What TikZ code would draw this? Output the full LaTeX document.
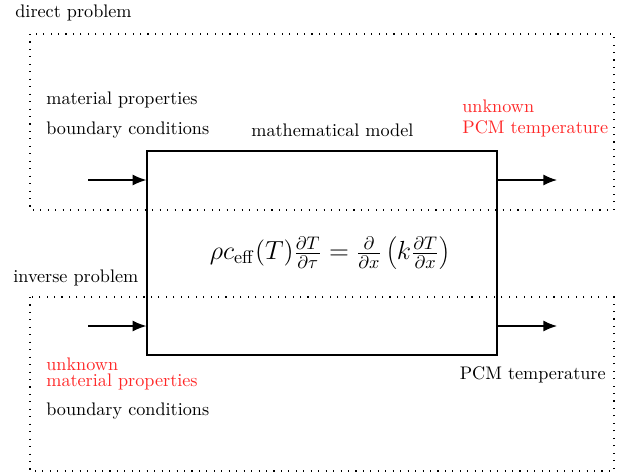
\documentclass[tikz,border=0pt]{standalone}
\usetikzlibrary{arrows.meta}
\begin{document}
\begin{tikzpicture}[x=0.55pt,y=-0.55pt,
  frame/.style={line width=0.6pt,dash pattern=on 0.6pt off 3.5pt},
  modelbox/.style={draw,line width=0.7pt},
  flow/.style={line width=0.7pt,-{Latex[length=7.5pt,width=6pt]}},
  lbl/.style={inner sep=0pt,font=\normalsize},
  unk/.style={lbl,text=red!85!white}]
\useasboundingbox (0,0) rectangle (617,474);
\draw[frame] (30,34) rectangle (614,210);
\draw[frame] (30,297) rectangle (614,471);
\node[modelbox,minimum width=350*0.55pt,minimum height=204*0.55pt,inner sep=0pt] (model) at (322,253) {};
\node[font=\fontsize{13.8}{16}\selectfont] (eq) at (330,253) {$\rho c_{\mathrm{eff}}(T)\frac{\partial T}{\partial \tau} = \frac{\partial}{\partial x}\left(k\frac{\partial T}{\partial x}\right)$};
\coordinate (inA) at (88,180);
\coordinate (inB) at (88,326);
\coordinate (outA) at (557,180);
\coordinate (outB) at (557,326);
\draw[flow] (inA) -- (inA -| model.west);
\draw[flow] (inB) -- (inB -| model.west);
\draw[flow] (outA -| model.east) -- (outA);
\draw[flow] (outB -| model.east) -- (outB);
\node[lbl,anchor=west] (dp) at (15,13) {direct problem};
\node[lbl,anchor=west] (ip) at (13,278) {inverse problem};
\node[lbl,anchor=west] (mp) at (46,100) {material properties};
\node[lbl,anchor=west] (bc) at (46,130) {boundary conditions};
\node[lbl,anchor=west] (mm) at (251,130) {mathematical model};
\node[unk,anchor=west] (u1) at (462,106) {unknown};
\node[unk,anchor=west] (pt1) at (462,129) {PCM temperature};
\node[unk,anchor=west] (u2) at (46,364) {unknown};
\node[unk,anchor=west] (mp2) at (46,382) {material properties};
\node[lbl,anchor=west] (bc2) at (46,411) {boundary conditions};
\node[lbl,anchor=east] (pt2) at (606,375) {PCM temperature};
\end{tikzpicture}
\end{document}
